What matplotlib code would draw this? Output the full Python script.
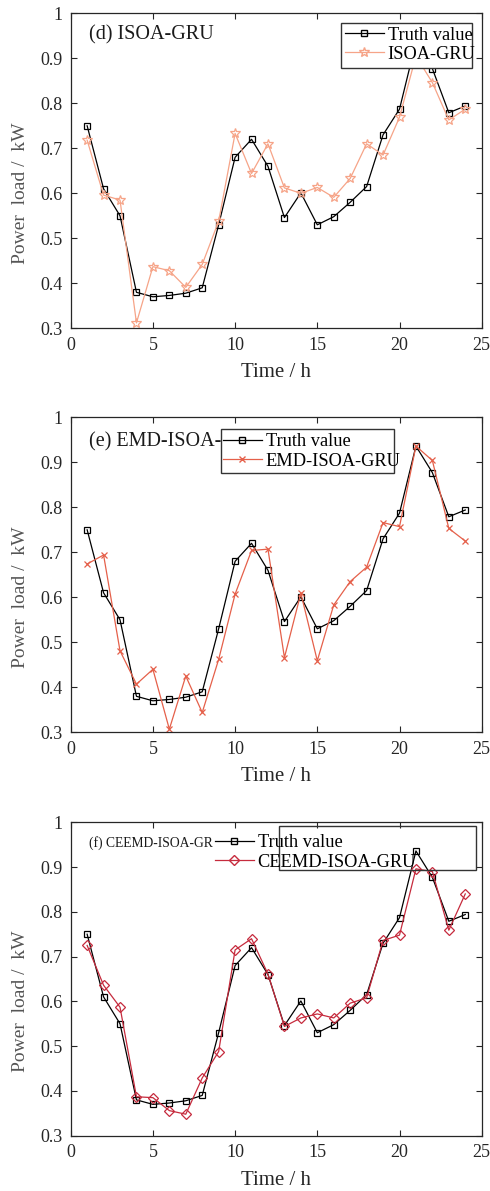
import matplotlib
matplotlib.use("Agg")
import matplotlib.pyplot as plt
from matplotlib.patches import Rectangle
from matplotlib.lines import Line2D

plt.rcParams['font.family'] = ['Liberation Serif', 'DejaVu Serif']

hours = list(range(1, 25))
truth = [0.750, 0.610, 0.550, 0.380, 0.370, 0.373, 0.378, 0.390, 0.530, 0.680,
         0.720, 0.660, 0.546, 0.601, 0.530, 0.548, 0.580, 0.615, 0.730, 0.787,
         0.936, 0.877, 0.779, 0.794]
isoa_gru = [0.718, 0.596, 0.585, 0.312, 0.437, 0.428, 0.391, 0.442, 0.538, 0.733,
            0.644, 0.710, 0.612, 0.600, 0.613, 0.591, 0.633, 0.710, 0.685, 0.769,
            0.905, 0.846, 0.763, 0.787]
emd_isoa_gru = [0.674, 0.694, 0.481, 0.407, 0.440, 0.307, 0.425, 0.344, 0.462, 0.607,
                0.704, 0.707, 0.466, 0.609, 0.459, 0.583, 0.635, 0.667, 0.766, 0.757,
                0.936, 0.904, 0.753, 0.725]
ceemd_isoa_gru = [0.725, 0.636, 0.587, 0.387, 0.385, 0.356, 0.348, 0.429, 0.488, 0.715,
                  0.740, 0.661, 0.544, 0.563, 0.572, 0.563, 0.596, 0.608, 0.736, 0.748,
                  0.896, 0.890, 0.759, 0.840]

yticks = [0.3, 0.4, 0.5, 0.6, 0.7, 0.8, 0.9, 1.0]
ytick_labels = ['0.3', '0.4', '0.5', '0.6', '0.7', '0.8', '0.9', '1']
xticks = [0, 5, 10, 15, 20, 25]

W, H = 490, 1191
fig = plt.figure(figsize=(W / 100, H / 100), dpi=100)

AX_L, AX_R = 70.7, 481.7
panels_px = [(13.3, 328.3), (417.3, 732.3), (822.3, 1135.7)]

spine_c = '#262626'

models = [
    dict(name='ISOA-GRU', title='(d) ISOA-GRU', tsize=14.5, data=isoa_gru,
         color='#F6A488', marker='*', ms=7.5),
    dict(name='EMD-ISOA-GRU', title='(e) EMD-ISOA-GRU', tsize=14.5, data=emd_isoa_gru,
         color='#E5604A', marker='x', ms=4.5),
    dict(name='CEEMD-ISOA-GRU', title='(f) CEEMD-ISOA-GR', tsize=9.8, data=ceemd_isoa_gru,
         color='#C62B3D', marker='D', ms=5.5),
]

# legend geometry in pixels: (handle_left_x, first_row_center_y, box(x0,y0,x1,y1), box_filled)
legend_geo = [
    (345.0, 35.0, (341.0, 23.3, 472.3, 67.7), True),
    (223.0, 441.7, (221.0, 429.0, 394.3, 472.7), True),
    (215.0, 842.7, (279.3, 825.7, 476.0, 870.0), False),
]

def px2fig(x, y):
    return x / W, 1 - y / H

for i, m in enumerate(models):
    top, bot = panels_px[i]
    ax = fig.add_axes([AX_L / W, 1 - bot / H, (AX_R - AX_L) / W, (bot - top) / H])
    ax.plot(hours, m['data'], color=m['color'], lw=0.9, marker=m['marker'], ms=m['ms'],
            mfc='none', mec=m['color'], mew=0.9, zorder=2.1)
    ax.plot(hours, truth, color='black', lw=0.9, marker='s', ms=5,
            mfc='none', mec='black', mew=0.9, zorder=2.0)
    ax.set_xlim(0, 25)
    ax.set_ylim(0.3, 1.0)
    ax.set_xticks(xticks)
    ax.set_xticklabels([str(t) for t in xticks])
    ax.set_yticks(yticks)
    ax.set_yticklabels(ytick_labels)
    ax.tick_params(direction='in', top=True, right=True, length=4, width=0.8,
                   color=spine_c, labelcolor=spine_c, labelsize=13)
    ax.tick_params(axis='y', pad=6)
    ax.tick_params(axis='x', pad=6)
    for s in ax.spines.values():
        s.set_color(spine_c)
        s.set_linewidth(0.9)
    ax.set_xlabel('Time / h', fontsize=15, color=spine_c, labelpad=7)
    ax.set_ylabel('Power  load /  kW', fontsize=14, color='#555555')
    ax.yaxis.label.set_va('center')
    ax.yaxis.label.set_ha('center')
    ax.yaxis.set_label_coords(-0.122, 0.43)

    # title text
    tx, ty = px2fig(89.3, legend_geo[i][1])
    fig.text(tx, ty, m['title'], fontsize=m['tsize'], color='#1a1a1a',
             ha='left', va='center', zorder=3)

    # legend box
    hx, ry, (bx0, by0, bx1, by1), filled = legend_geo[i]
    fx0, fy1 = px2fig(bx0, by0)
    fx1, fy0 = px2fig(bx1, by1)
    rect = Rectangle((fx0, fy0), fx1 - fx0, fy1 - fy0, transform=fig.transFigure,
                     facecolor='white' if filled else 'none', edgecolor='#333333',
                     lw=1.0, zorder=4)
    fig.add_artist(rect)

    handles = [
        Line2D([], [], color='black', lw=0.9, marker='s', ms=5, mfc='none', mec='black'),
        Line2D([], [], color=m['color'], lw=0.9, marker=m['marker'], ms=m['ms'],
               mfc='none', mec=m['color']),
    ]
    lx, ly = px2fig(hx, ry - 8.5)
    leg = fig.legend(handles, ['Truth value', m['name']], loc='upper left',
                     bbox_to_anchor=(lx, ly), bbox_transform=fig.transFigure,
                     frameon=False, fontsize=13.2, borderpad=0, borderaxespad=0,
                     handlelength=2.1, handletextpad=0.22, labelspacing=0.13,
                     numpoints=1)
    leg.set_zorder(5)

fig.savefig('out.png', dpi=100)
